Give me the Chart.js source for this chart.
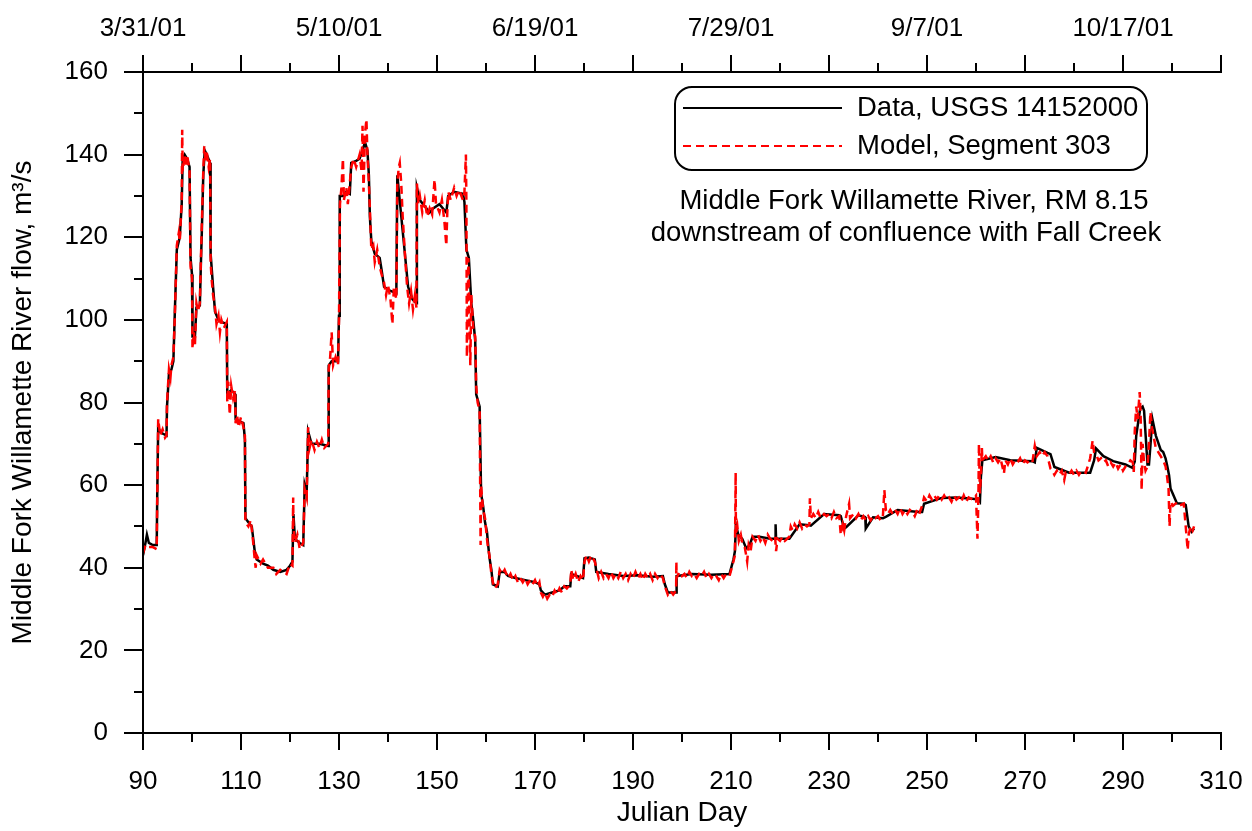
<!DOCTYPE html>
<html><head><meta charset="utf-8">
<script src="https://cdn.jsdelivr.net/npm/chart.js@4"></script>
<style>html,body{margin:0;padding:0;background:#fff}canvas{display:block}</style>
</head><body>
<canvas id="c" width="1252" height="831"></canvas>
<script>
// ---------- data ----------
const dataDays = [90.0,90.5,90.8,91.2,92.0,92.8,92.9,93.1,93.5,94.0,94.8,94.9,95.3,95.8,96.2,96.5,96.9,97.5,97.9,98.1,98.5,99.0,99.5,99.7,100.0,100.1,100.6,100.9,101.6,101.8,102.0,102.3,102.6,103.0,103.7,103.8,104.3,104.7,105.4,106.0,107.1,107.2,108.0,108.8,108.9,109.5,110.5,110.8,110.9,111.5,112.2,112.5,112.8,113.2,114.5,115.5,116.6,118.0,119.3,120.0,120.5,120.7,121.0,122.0,122.7,123.0,123.4,123.7,124.4,126.0,127.8,127.9,128.5,129.8,130.0,130.1,130.2,130.8,131.5,132.2,132.5,133.5,134.2,134.8,135.3,135.8,136.1,136.3,136.6,137.3,138.3,138.7,139.2,140.5,141.7,141.9,144.1,145.0,145.8,145.9,146.5,147.5,148.5,149.2,150.5,151.9,152.3,153.5,155.3,155.6,156.0,156.5,157.0,157.4,157.8,158.0,158.7,159.0,159.4,159.8,160.2,160.4,160.7,161.1,161.4,162.4,162.8,163.8,164.5,166.0,168.0,170.0,170.9,171.2,172.0,173.5,175.0,176.0,177.2,177.4,179.8,180.1,181.0,182.2,182.5,185.0,188.0,191.0,194.0,196.1,196.5,197.1,198.8,198.9,202.0,206.0,209.7,210.5,210.8,211.0,211.5,212.3,213.1,213.8,214.4,215.8,218.0,219.0,219.1,219.2,221.9,222.2,224.0,226.0,226.3,229.0,232.1,232.4,233.1,233.5,236.0,237.3,237.4,237.5,239.0,241.0,241.6,244.0,248.4,249.0,249.4,253.0,256.0,259.3,260.5,260.8,261.0,261.3,264.0,267.0,271.5,272.0,272.4,274.6,275.2,276.0,279.0,282.4,283.3,284.1,284.5,286.0,288.0,290.5,291.9,292.4,292.7,293.5,294.0,294.3,295.0,295.3,295.6,296.0,296.7,297.7,298.2,298.7,299.0,299.4,299.7,301.0,302.4,302.8,303.4,304.0,304.5];
const dataFlow = [43,46,48,46,45.5,45.5,57,74,73,72.5,72,79,87,88,90,102,117,120,128,139,140,139,137,115,111,96,96,103,103.5,113,121,135,141,140,138,116,108,102,100,99.5,99,82,83,82,76,75.5,75,71,52,51,50,47,44,42,41,40.5,39.5,39,39.5,40.5,41.5,53,47,46,45.5,60,58,73,70,70,69.5,89,90,90,101,113,130,130,131,130.5,138,138.5,139,141,143,141,135,125,119,116,115,112,108,107,106.5,135,108,105,104,132,129,127.5,126,127,128,126,130,131,130.5,128.5,117,115,104,100,95,82,79,58,55,51,48.7,46,42.5,39.5,36,35.5,39,39,38,37.5,37,36.5,36,34.5,33.5,34,34.5,35.5,35.5,38.5,37.5,42.3,42.5,42,39,38.5,38,38.2,37.8,38,36,34,34,38,38.5,38.3,38.5,42,44,50.4,48,47,44.7,45.5,47.5,47.5,47,47,50.5,47,47,47.5,50.5,50.3,50.2,53,52.7,52.5,49.5,49.8,52.7,52.3,52.2,49.5,52.2,52,52.3,54,53.5,53.5,55.5,56.9,57,56.7,56.5,56,62,66,66.8,66,65.8,65.5,69,67.8,67.5,64.4,63,63,63,66,68.9,67,65.8,65,64.2,65.7,72,78.5,79,78,65,65,69.6,76,72,68.5,68,66.4,64.8,62.4,59.2,55.6,55.5,55.2,50,48.7,49.5,49.7];

const modelDays = [90.0,90.5,91.0,92.0,92.8,92.9,93.1,93.5,94.0,94.5,94.8,94.9,95.3,95.6,95.8,96.2,96.5,96.9,97.3,97.5,97.9,98.0,98.1,98.5,98.8,99.0,99.5,99.7,100.0,100.1,100.4,100.6,100.9,101.2,101.6,101.8,102.0,102.3,102.5,102.8,103.0,103.4,103.7,103.8,104.0,104.3,104.7,105.0,105.4,105.7,106.0,106.5,107.1,107.2,107.4,107.7,108.0,108.4,108.8,108.9,109.2,109.5,110.0,110.5,110.8,110.9,111.5,112.0,112.5,112.8,113.0,113.2,114.0,114.5,115.5,116.6,117.2,118.0,119.3,120.0,120.5,120.65,120.7,121.0,121.5,122.0,122.7,123.0,123.4,123.7,124.0,124.4,125.0,125.5,126.0,126.5,127.0,127.8,127.9,128.2,128.5,128.8,129.3,129.8,130.0,130.1,130.2,130.5,130.8,131.0,131.5,131.8,132.2,132.5,133.0,133.5,134.2,134.6,134.8,135.0,135.3,135.6,135.8,136.1,136.3,136.6,137.0,137.3,137.8,138.3,138.7,139.2,139.6,140.0,140.5,140.9,141.2,141.7,141.9,142.2,142.4,142.7,143.0,143.5,143.9,144.3,144.7,145.1,145.5,145.8,145.9,146.2,146.5,147.0,147.5,148.0,148.5,149.0,149.5,149.8,150.5,151.0,151.5,151.9,152.1,152.3,152.8,153.5,154.0,154.5,155.3,155.6,155.9,156.0,156.1,156.4,156.8,157.0,157.4,157.8,158.0,158.3,158.7,158.9,159.0,159.4,159.8,160.2,160.4,160.7,161.1,161.4,161.8,162.4,162.8,163.3,163.8,164.5,165.0,165.5,166.0,166.5,167.0,167.5,168.0,168.5,169.0,169.5,170.0,170.5,170.9,171.2,171.6,172.0,172.5,173.0,173.5,174.0,174.5,175.0,175.5,176.0,176.5,177.2,177.4,177.8,178.3,178.8,179.3,179.8,180.1,180.5,181.0,181.5,182.2,182.5,183.0,183.5,184.0,184.5,185.0,185.5,186.0,186.5,187.0,187.5,188.0,188.5,189.0,189.5,190.0,190.5,191.0,191.5,192.0,192.5,193.0,193.5,194.0,194.5,195.0,195.5,196.1,196.5,197.1,197.6,198.2,198.8,198.85,198.9,199.5,200.0,200.5,201.0,201.5,202.0,202.5,203.0,203.5,204.0,204.5,205.0,205.5,206.0,206.5,207.0,207.5,208.0,208.5,209.0,209.7,210.5,210.8,210.95,211.0,211.3,211.6,212.0,212.3,212.8,213.1,213.3,213.6,214.0,214.4,215.0,215.5,216.0,216.5,217.0,217.5,218.0,218.5,219.0,219.2,219.5,220.0,220.5,221.0,221.9,222.2,222.6,223.0,223.5,224.0,224.5,225.0,225.5,226.0,226.1,226.3,226.8,227.3,227.8,228.3,229.0,229.5,230.0,230.5,231.0,231.5,232.1,232.4,232.8,233.1,233.5,234.1,234.3,235.0,235.5,236.0,236.5,237.0,237.5,238.0,238.5,239.0,239.5,240.0,240.5,241.0,241.3,241.6,242.0,242.5,243.0,243.5,244.0,244.5,245.0,245.5,246.0,246.5,247.0,247.5,248.0,248.4,249.0,249.4,250.0,250.5,251.0,251.5,252.0,252.5,253.0,253.5,254.0,254.5,255.0,255.5,256.0,256.5,257.0,257.5,258.0,258.5,259.3,260.0,260.3,260.4,260.5,260.6,260.8,261.0,261.2,261.3,262.0,262.5,263.0,263.5,264.0,264.5,265.0,265.7,266.0,266.5,267.0,267.5,268.0,268.5,269.0,269.5,270.0,270.5,271.0,271.5,272.0,272.4,273.0,273.5,274.0,274.6,275.2,275.6,276.0,276.5,277.0,277.5,278.0,278.3,279.0,279.5,280.0,280.5,281.0,281.5,282.4,283.3,283.8,284.1,284.5,285.0,285.5,286.0,286.5,287.0,287.5,288.0,288.5,289.0,289.5,290.0,290.5,291.0,291.5,292.0,292.2,292.4,292.7,293.0,293.4,293.6,293.8,294.0,294.3,294.6,295.0,295.3,295.6,295.9,296.2,296.7,297.2,297.7,298.2,298.7,299.0,299.3,299.5,299.7,300.2,301.0,301.5,302.4,302.8,303.2,303.4,303.8,304.2,304.5];
const modelFlow = [43.5,45.5,45,45,44.5,56,76,72,73.5,71.5,72,80,88,86,89,91,101,118,121,119,129,146,136,140,137,140,136,113,110,93,97,94,104,102,104,114,123,136,142,138,141,137,139,114,110,106,103,99,101,97,100,98,99.5,80,85,77,84,81,83,75,77,74,76.5,74,72,51,50,51.5,46,42,40,43,41,42,40,40,38.5,39.5,38.5,41,40.5,57,50,46,48,44.5,46,59,57,74,69,71,68.5,70.5,69,71,69,70,88,91,97,89,91,89,100,115,128,132,139,129,132,128,133,137,139,137,140,136,147,131,145,148.5,140,133,127,117,118,114,117,113,111,109,106,108.5,105,99,108,105,133,137,138,133,125,115,108,104,107,102.5,106,103,133,128,130,126,129,125,127,125.5,134,128,126,129,124,118,126,131,129,132,130,131.5,129,131,140,128,91,115,89,106,98,96,84,80,78,45.5,60,54,52,47,45,43,38.5,36.5,35,36,39.5,38.5,39.5,37.5,38.5,37,38,36.5,37.5,36.5,37.5,36,37,36,37,35.5,36.5,34,33,34,32.5,33.5,33,34.5,33.5,35,34,35.5,35,36,39.5,37,38.5,36.5,38,37,41.5,43,41.5,43,41.5,40,37.5,39,37.5,38.5,37.5,39,37.5,38.5,37.5,39,37.5,38.5,37,38.5,37.5,39,37.5,38.5,37,38.5,37.5,38.5,37,38.5,37.5,38.5,37.5,35.5,33.5,34.5,33.5,34.5,41.5,37.5,39,38,38.5,37.5,39,38,38.5,37.5,38.5,38,39,37.5,38.5,37.5,38.5,38,37,38.5,37.5,38.5,38,41.5,43,63,48,50,46.5,48,46,45,43,41.5,45.5,44,47.5,46.5,48,46.5,47.5,46,48,47,46.5,47.5,44,47,46.5,47.5,46.5,47.5,50,49,50.5,49.5,51,49.5,50.5,50,50.5,56.8,52,53,52,53.5,52,53,52.5,53,52,53.5,52,52.5,48,50.5,49,52.5,55.5,52,53,52,53,51.5,52.5,51.5,52.5,51.5,52.5,52,52.5,51.5,52.5,58.8,54,53,54,53,54,53,54.5,53,54,53,54,53.5,52.5,54,53,55,57,56,57.5,56.5,57.5,56.5,57.5,56.5,57.5,56.5,57,56,57.5,56.5,57,56,57.5,56,57,56.5,57.5,47,52,58,70,58,62,69,66,67,66,67,65.5,66.5,65.5,66.5,62.8,66,65,66.5,65,66,65.5,66.5,65,66,65.5,66,65.5,69.5,67,68,67,68,67,64,63.5,62.5,63.5,62.5,63.5,61.2,63,62.5,63.5,62.5,63.5,62.5,63.5,63,66.5,70.8,68,67.5,66,66.5,65.5,66,64.5,65.5,64.5,65.5,64,65,63.5,64.5,65,66,65.5,63.2,73,79,76,82.5,77,58.8,70,65.5,63.5,64.5,70,77.7,74,72,69,68,67,66,64.5,62,59,50,56,55,55.8,55,55.5,50,44.3,48,50,49,50];

const xTickDays = [90,110,130,150,170,190,210,230,250,270,290,310];
const topTickDays = [90,130,170,210,250,290];
const topTickLabels = ['3/31/01','5/10/01','6/19/01','7/29/01','9/7/01','10/17/01'];
const yTickValues = [0,20,40,60,80,100,120,140,160];
const seriesLabels = ['Data, USGS 14152000','Model, Segment 303'];
const noteLines = ['Middle Fork Willamette River, RM 8.15','downstream of confluence with Fall Creek'];
const xTitle = 'Julian Day';
const yTitle = 'Middle Fork Willamette River flow, m\u00B3/s';

// ---------- styles ----------
const FONT = '"Liberation Sans", Arial, sans-serif';
const TICK_FONT = {family: FONT, size: 26};

const axesPlugin = {
  id: 'axesPlugin',
  afterDraw(chart) {
    const ctx = chart.ctx, a = chart.chartArea;
    const xs = chart.scales.x, ys = chart.scales.y;
    ctx.save();
    ctx.strokeStyle = '#000'; ctx.lineWidth = 2; ctx.lineCap = 'butt';
    ctx.beginPath();
    ctx.moveTo(a.left - 1, a.top); ctx.lineTo(a.right + 1, a.top);
    ctx.moveTo(a.left - 1, a.bottom); ctx.lineTo(a.right + 1, a.bottom);
    ctx.moveTo(a.left, a.top); ctx.lineTo(a.left, a.bottom);
    for (let d = xs.min; d <= xs.max + 0.001; d += 10) {
      const px = Math.round(xs.getPixelForValue(d));
      const major = ((d - xs.min) % 20) === 0;
      const len = major ? 17 : 9;
      ctx.moveTo(px, a.bottom); ctx.lineTo(px, a.bottom + len);
      ctx.moveTo(px, a.top); ctx.lineTo(px, a.top - len);
    }
    for (let v = ys.min; v <= ys.max + 0.001; v += 10) {
      const py = Math.round(ys.getPixelForValue(v));
      const major = (v % 20) === 0;
      const len = major ? 19 : 9;
      ctx.moveTo(a.left, py); ctx.lineTo(a.left - len, py);
    }
    ctx.stroke();

    // legend box
    const bx = 675, by = 87, bw = 472, bh = 83, r = 17;
    ctx.beginPath();
    ctx.moveTo(bx + r, by);
    ctx.lineTo(bx + bw - r, by); ctx.arcTo(bx + bw, by, bx + bw, by + r, r);
    ctx.lineTo(bx + bw, by + bh - r); ctx.arcTo(bx + bw, by + bh, bx + bw - r, by + bh, r);
    ctx.lineTo(bx + r, by + bh); ctx.arcTo(bx, by + bh, bx, by + bh - r, r);
    ctx.lineTo(bx, by + r); ctx.arcTo(bx, by, bx + r, by, r);
    ctx.closePath();
    ctx.fillStyle = '#fff'; ctx.fill();
    ctx.lineWidth = 2; ctx.strokeStyle = '#000'; ctx.stroke();

    const ds = chart.data.datasets;
    const rows = [{y: 108, d: ds[1]}, {y: 146, d: ds[0]}];
    rows.forEach((row) => {
      ctx.beginPath();
      ctx.setLineDash(row.d.borderDash || []);
      ctx.strokeStyle = row.d.borderColor; ctx.lineWidth = 2;
      ctx.moveTo(683, row.y); ctx.lineTo(842, row.y); ctx.stroke();
      ctx.setLineDash([]);
      ctx.fillStyle = '#000';
      ctx.font = '27.5px ' + FONT;
      ctx.textAlign = 'left'; ctx.textBaseline = 'middle';
      ctx.fillText(row.d.label, 857, row.y);
    });

    // annotation
    ctx.font = '27.5px ' + FONT;
    ctx.textAlign = 'center'; ctx.textBaseline = 'middle';
    ctx.fillText(noteLines[0], 914, 201);
    ctx.fillText(noteLines[1], 906, 233);
    ctx.restore();
  }
};

const toPoints = (xsArr, ysArr) => xsArr.map((x, i) => ({x, y: ysArr[i]}));

new Chart(document.getElementById('c'), {
  type: 'line',
  data: {
    datasets: [
      {label: seriesLabels[1], data: toPoints(modelDays, modelFlow), borderColor: '#ff0000',
       borderWidth: 2.5, borderDash: [8, 5], pointRadius: 0, tension: 0, order: 0},
      {label: seriesLabels[0], data: toPoints(dataDays, dataFlow), borderColor: '#000000',
       borderWidth: 2.5, pointRadius: 0, tension: 0, order: 1}
    ]
  },
  options: {
    responsive: false, animation: false, events: [],
    layout: {padding: {left: 0, right: 31, top: 0, bottom: 0}},
    plugins: {legend: {display: false}, tooltip: {enabled: false}},
    scales: {
      x: {
        type: 'linear', position: 'bottom', min: 90, max: 310,
        afterBuildTicks: (s) => { s.ticks = xTickDays.map(v => ({value: v})); },
        afterFit: (s) => { s.height = 98; s.paddingLeft = 0; s.paddingRight = 0; },
        grid: {display: false, drawTicks: false}, border: {display: false},
        ticks: {font: TICK_FONT, color: '#000', padding: 33, maxRotation: 0, autoSkip: false},
        title: {display: true, text: xTitle, font: {family: FONT, size: 28}, color: '#000', padding: {top: 0, bottom: 1}}
      },
      x2: {
        type: 'linear', position: 'top', min: 90, max: 310,
        afterBuildTicks: (s) => { s.ticks = topTickDays.map(v => ({value: v})); },
        afterFit: (s) => { s.height = 72; s.paddingLeft = 0; s.paddingRight = 0; },
        grid: {display: false, drawTicks: false}, border: {display: false},
        ticks: {font: TICK_FONT, color: '#000', padding: 28, maxRotation: 0, autoSkip: false,
          callback: (v) => topTickLabels[topTickDays.indexOf(v)] ?? ''}
      },
      y: {
        type: 'linear', position: 'left', min: 0, max: 160,
        afterBuildTicks: (s) => { s.ticks = yTickValues.map(v => ({value: v})); },
        afterFit: (s) => { s.width = 143; },
        grid: {display: false, drawTicks: false}, border: {display: false},
        ticks: {font: TICK_FONT, color: '#000', padding: 35},
        title: {display: true, text: yTitle, font: {family: FONT, size: 28}, color: '#000', padding: {top: 6, bottom: 0}}
      }
    }
  },
  plugins: [axesPlugin]
});
</script>
</body></html>
